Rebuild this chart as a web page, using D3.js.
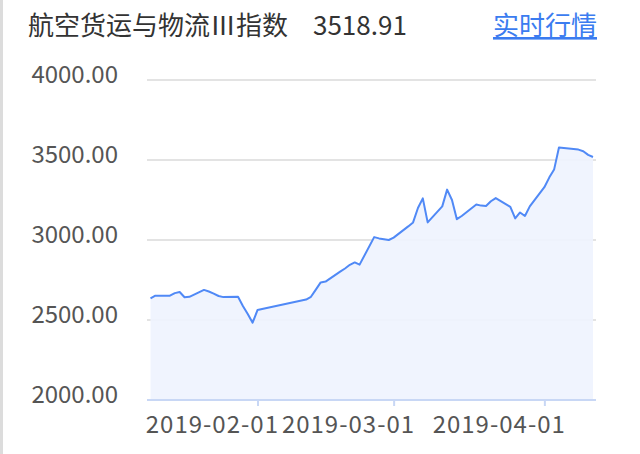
<!DOCTYPE html>
<html><head><meta charset="utf-8">
<script src="https://cdn.jsdelivr.net/npm/d3@7"></script>
<style>
html,body{margin:0;padding:0;background:#fff;}
svg{display:block;}
text{font-family:"Noto Sans CJK SC","Noto Sans",sans-serif;}
</style></head>
<body>
<svg id="c" width="640" height="454"></svg>
<script>
const titleText = "航空货运与物流Ⅲ指数";
const lastValueText = "3518.91";
const linkText = "实时行情";
const dates = ["2019-01-10","2019-01-11","2019-01-14","2019-01-15","2019-01-16","2019-01-17","2019-01-18",
"2019-01-21","2019-01-22","2019-01-23","2019-01-24","2019-01-25","2019-01-28","2019-01-29","2019-01-30","2019-01-31","2019-02-01",
"2019-02-11","2019-02-12","2019-02-13","2019-02-14","2019-02-15","2019-02-18","2019-02-19","2019-02-20","2019-02-21","2019-02-22",
"2019-02-25","2019-02-26","2019-02-27","2019-02-28","2019-03-01","2019-03-04","2019-03-05","2019-03-06","2019-03-07","2019-03-08",
"2019-03-11","2019-03-12","2019-03-13","2019-03-14","2019-03-15","2019-03-18","2019-03-19","2019-03-20","2019-03-21","2019-03-22",
"2019-03-25","2019-03-26","2019-03-27","2019-03-28","2019-03-29","2019-04-01","2019-04-02","2019-04-03","2019-04-04",
"2019-04-08","2019-04-09","2019-04-10","2019-04-11"];
const values = [2635,2652,2652,2668,2675,2642,2645,
2688,2678,2665,2650,2643,2645,2588,2538,2483,2562,
2628,2645,2690,2735,2740,2802,2822,2845,2860,2846,
3018,3010,3005,3000,3015,3085,3110,3200,3260,3110,
3210,3315,3250,3130,3150,3222,3215,3212,3242,3262,
3207,3135,3172,3150,3210,3330,3390,3440,3578,
3565,3555,3532,3518.91];
const yTicks = [2000,2500,3000,3500,4000];
const xTicks = ["2019-02-01","2019-03-01","2019-04-01"];

const parse = d3.timeParse("%Y-%m-%d");
const data = dates.map((d,i)=>({date:parse(d), value:values[i]}));
const svg = d3.select("#c");

const x = d3.scaleTime().domain([parse("2019-01-10"), parse("2019-04-11")]).range([150.5, 593]);
const y = d3.scaleLinear().domain([2000,4000]).range([400,80]);

// left border
svg.append("rect").attr("x",0).attr("y",0).attr("width",3).attr("height",454).attr("fill","#dcdcdc");

// title
svg.append("text").attr("x",28).attr("y",35).attr("font-size",26).attr("fill","#333").text(titleText);
svg.append("text").attr("x",313).attr("y",35).attr("font-size",26).attr("fill","#333").text(lastValueText);
svg.append("text").attr("x",597).attr("y",35).attr("text-anchor","end").attr("font-size",26)
  .attr("fill","#3b7cf0").attr("text-decoration","underline").text(linkText);

// grid
svg.append("g").selectAll("line").data(yTicks.filter(t=>t!==2000)).join("line")
  .attr("x1",147).attr("x2",596).attr("y1",d=>y(d)).attr("y2",d=>y(d))
  .attr("stroke","#e3e3e3").attr("stroke-width",2);

// y labels
const yAxis = d3.axisLeft(y).tickValues(yTicks).tickFormat(d3.format(".2f")).tickSize(0).tickPadding(0);
const ya = svg.append("g").attr("transform","translate(118,0)").call(yAxis);
ya.select(".domain").remove();
ya.selectAll("text").attr("font-size",24).attr("fill","#555").attr("dy","0.12em")
  .style("font-family","'Noto Sans CJK SC',sans-serif");

// area
const area = d3.area().x(d=>x(d.date)).y0(y(2000)).y1(d=>y(d.value));
svg.append("path").datum(data).attr("d",area).attr("fill","#eef3fe").attr("fill-opacity",0.9);
const line = d3.line().x(d=>x(d.date)).y(d=>y(d.value));
svg.append("path").datum(data).attr("d",line).attr("fill","none").attr("stroke","#5089f6").attr("stroke-width",2).attr("stroke-linejoin","round");

// x axis
const xAxis = d3.axisBottom(x).tickValues(xTicks.map(parse)).tickFormat(d3.timeFormat("%Y-%m-%d")).tickSize(6).tickPadding(10);
const xa = svg.append("g").attr("transform",`translate(0,${y(2000)})`).call(xAxis);
xa.select(".domain").remove();
svg.insert("line").attr("x1",147).attr("x2",596).attr("y1",y(2000)).attr("y2",y(2000)).attr("stroke","#c8d7f5").attr("stroke-width",2);
xa.selectAll(".tick line").attr("stroke","#c8d7f5").attr("stroke-width",2);
xa.selectAll("text").attr("font-size",24).attr("fill","#555").attr("text-anchor","end").attr("dx",21)
  .attr("letter-spacing","1px")
  .style("font-family","'Noto Sans CJK SC',sans-serif");
</script>
</body></html>
